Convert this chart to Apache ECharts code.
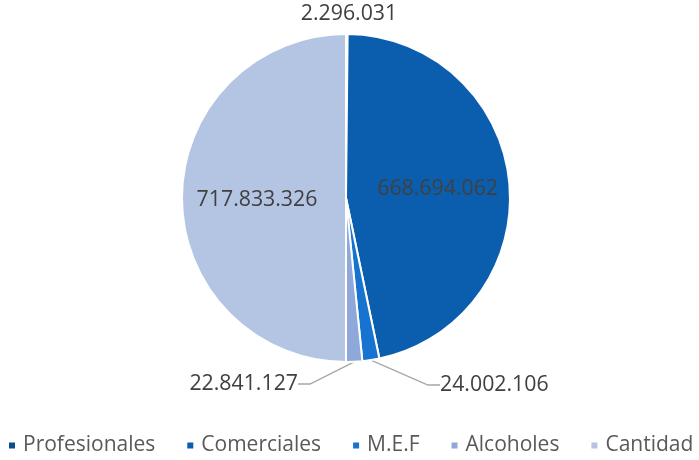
<!DOCTYPE html>
<html><head><meta charset="utf-8">
<script src="https://cdn.jsdelivr.net/npm/echarts@6/dist/echarts.min.js"></script>
<style>html,body{margin:0;padding:0;background:#fff}#c{width:699px;height:460px}</style>
</head><body><div id="c"></div>
<script>
var categories = ['Profesionales', 'Comerciales', 'M.E.F', 'Alcoholes', 'Cantidad'];
var values = [2296031, 668694062, 24002106, 22841127, 717833326];
var colors = ['#0E4C8C', '#0B5EAE', '#1673D0', '#8EA8DA', '#B4C4E3'];

function fmt(v) { return String(v).replace(/\B(?=(\d{3})+(?!\d))/g, '.'); }

var labelCfg = {
  0: { x: 349, y: 14, align: 'center', line: false },
  2: { x: 440, y: 385, align: 'left', line: true },
  3: { x: 298, y: 384, align: 'right', line: true }
};
var insideShift = {
  1: { dx: 7, dy: -1 },
  4: { dx: -4, dy: 2 }
};

var data = categories.map(function (c, i) {
  var cfg = labelCfg[i];
  return {
    name: c, value: values[i],
    itemStyle: { color: colors[i] },
    label: { position: cfg ? 'outside' : 'inside' },
    labelLine: { show: cfg ? cfg.line : false }
  };
});

var chart = echarts.init(document.getElementById('c'), null, { renderer: 'canvas' });
chart.setOption({
  animation: false,
  backgroundColor: '#fff',
  legend: {
    top: 430, left: 2,
    itemWidth: 8, itemHeight: 8, itemGap: 30,
    icon: 'rect',
    textStyle: { fontFamily: 'Open Sans', fontSize: 21, color: '#595959', padding: [0, 0, 0, 2] },
    data: categories
  },
  series: [{
    type: 'pie',
    center: [346, 198],
    radius: [0, 164],
    startAngle: 90,
    clockwise: true,
    avoidLabelOverlap: false,
    itemStyle: { borderColor: '#fff', borderWidth: 2 },
    label: {
      formatter: function (p) { return fmt(p.value); },
      fontFamily: 'Open Sans', fontSize: 21.3, color: '#404040'
    },
    labelLine: { length: 15, length2: 12, lineStyle: { color: '#A6A6A6', width: 1.3 } },
    labelLayout: function (p) {
      var cfg = labelCfg[p.dataIndex];
      if (!cfg) return insideShift[p.dataIndex] || {};
      return { x: cfg.x, y: cfg.y, align: cfg.align, verticalAlign: 'middle' };
    },
    data: data
  }]
});
</script></body></html>
